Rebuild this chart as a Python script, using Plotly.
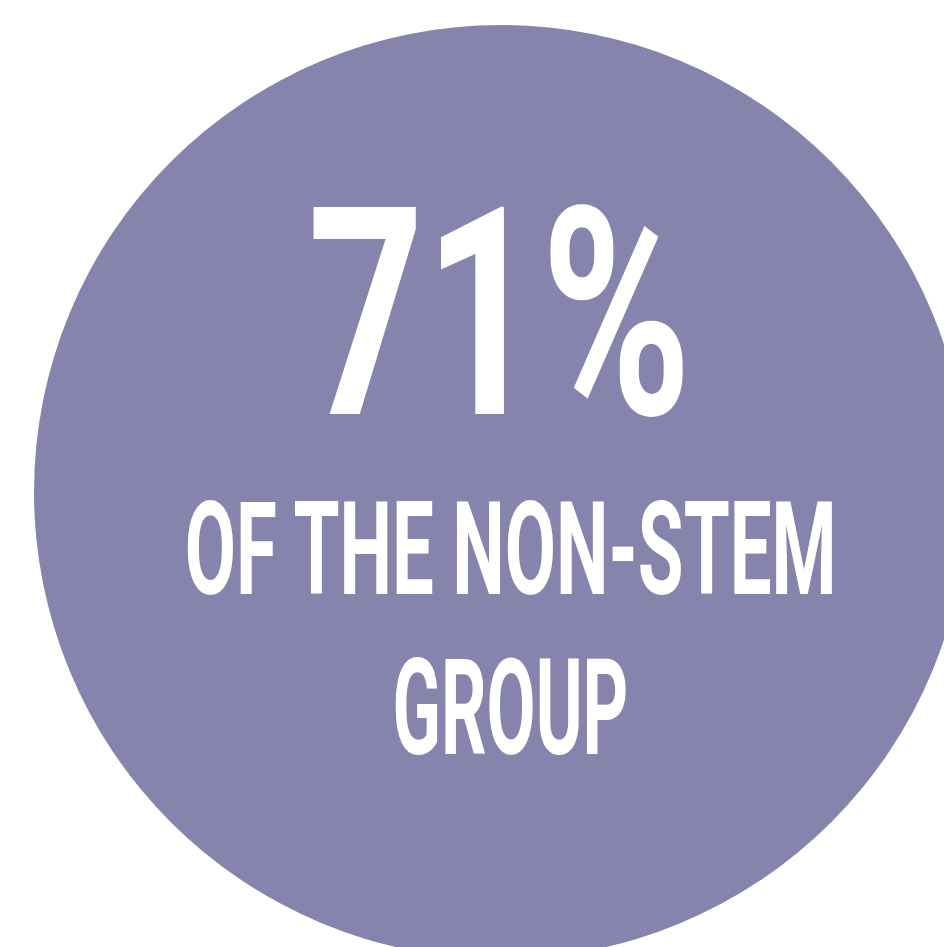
import plotly.graph_objects as go

# ---- data ----
share_pct = 71
label_lines = ["OF THE NON-STEM", "GROUP"]

# ---- style / layout constants ----
W, H = 944, 947
circle_color = "#8683AD"
text_color = "#FFFFFF"
font_family = "Roboto, 'DejaVu Sans', sans-serif"

fig = go.Figure()

# invisible trace so axes exist
fig.add_trace(go.Scatter(x=[0, W], y=[0, H], mode="markers",
                         marker=dict(opacity=0), hoverinfo="skip", showlegend=False))

fig.add_shape(type="circle", xref="x", yref="y",
              x0=34, x1=968, y0=25, y1=959,
              fillcolor=circle_color, line=dict(width=0), layer="below")

texts = [f"{share_pct}%"] + label_lines
sizes = [291, 130, 133]
ys = [314, 549, 708]
xs = [499, 511, 510]
for t, s, y, x in zip(texts, sizes, ys, xs):
    fig.add_annotation(x=x, y=y, xref="x", yref="y", text=t, showarrow=False,
                       xanchor="center", yanchor="middle",
                       font=dict(family=font_family, size=s, color=text_color, weight=700))

fig.update_xaxes(range=[0, W], visible=False, fixedrange=True)
fig.update_yaxes(range=[H, 0], visible=False, fixedrange=True)
fig.update_layout(width=W, height=H, margin=dict(l=0, r=0, t=0, b=0),
                  paper_bgcolor="white", plot_bgcolor="white", showlegend=False)

# condense the text horizontally (narrow display face look)
target_widths = [384, 652, 236]
post = """
document.body.style.margin = '0';
document.body.style.overflow = 'hidden';
var gd = document.getElementById('{plot_id}');
var TARGET = %s;
function squeeze(){
  var ts = gd.querySelectorAll('.annotation-text');
  ts.forEach(function(t, i){
    if (i >= TARGET.length) return;
    t.removeAttribute('transform');
    var bb = t.getBBox();
    var sx = TARGET[i] / bb.width;
    var cx = bb.x + bb.width / 2;
    t.setAttribute('transform', 'translate(' + cx + ',0) scale(' + sx + ',1) translate(' + (-cx) + ',0)');
  });
}
squeeze();
if (gd.on) gd.on('plotly_afterplot', squeeze);
""" % str(target_widths)

fig.write_html("out.html", post_script=post, config={"displayModeBar": False, "responsive": False})
